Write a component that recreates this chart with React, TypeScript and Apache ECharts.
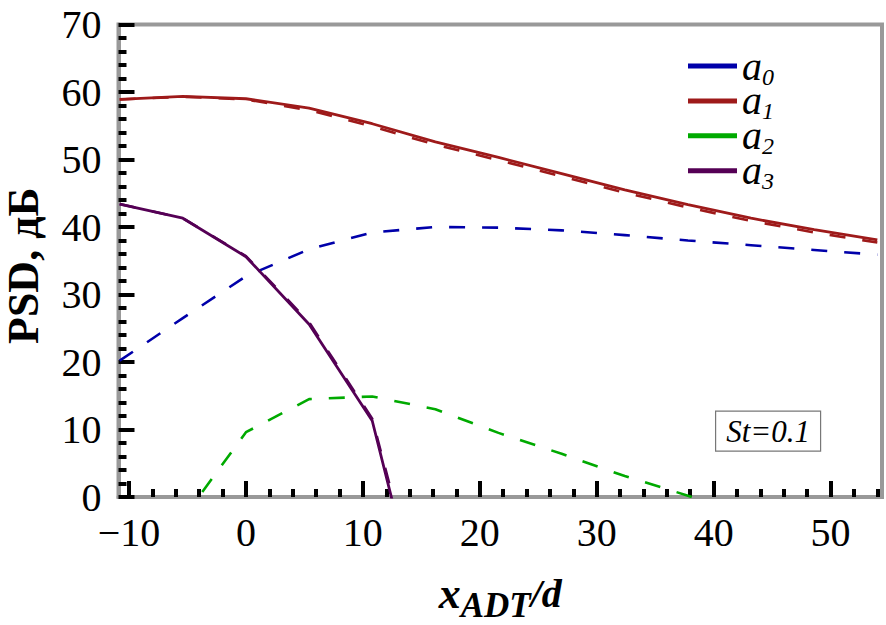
import React, { useEffect, useRef } from "react";
import * as echarts from "echarts";

// x positions of the computed points (x_ADT/d)
const xGrid = [-10.8, -5.4, 0, 5.4, 10.8, 16.2, 21.6, 27, 32.4, 37.8, 43.2, 48.6, 54];
// a0 (blue dashed)
const a0Fit = [20.2, 26.5, 32.7, 36.7, 39.2, 40.0, 39.9, 39.5, 38.8, 38.0, 37.3, 36.6, 35.9];
// a1 (red) solid and dashed
const a1 = [58.9, 59.35, 59.0, 57.6, 55.3, 52.6, 50.3, 47.9, 45.5, 43.3, 41.3, 39.6, 38.1];
const a1Fit = [58.9, 59.3, 58.9, 57.3, 54.9, 52.2, 49.9, 47.5, 45.1, 42.9, 40.9, 39.2, 37.7];
// a2 (green dashed)
const xA2 = [-5.4, 0, 5.4, 10.8, 16.2, 21.6, 27, 32.4, 37.8, 43.2];
const a2Fit = [-3.2, 9.6, 14.5, 14.9, 13.0, 9.5, 6.4, 3.1, 0.2, -3.0];
// a3 (purple) solid and dashed
const xA3 = [-10.8, -5.4, 0, 5.4, 10.8, 16.2];
const a3 = [43.4, 41.3, 35.6, 25.6, 11.3, -26];
const a3Fit = [43.4, 41.3, 35.7, 25.9, 11.6, -24];

const xTicks = [-10, 0, 10, 20, 30, 40, 50];
const xMinorTicks = [-8, -6, -4, -2, 2, 4, 6, 8, 12, 14, 16, 18, 22, 24, 26, 28, 32, 34, 36, 38, 42, 44, 46, 48, 52, 54];
const legendNames = ["a0", "a1", "a2", "a3"];
const colors: Record<string, string> = {
  a0: "#0000aa",
  a1: "#9e1a1a",
  a2: "#00aa00",
  a3: "#550055",
};

const FONT = '"Liberation Serif", "Times New Roman", serif';

function zip(xs: number[], ys: number[]) {
  return xs.map((x, i) => [x, ys[i]]);
}

export default function App() {
  const ref = useRef<HTMLDivElement>(null);
  useEffect(() => {
    const chart = echarts.init(ref.current!, null, { renderer: "svg" });
    const dash = [16, 17];
    const mk = (name: string, xs: number[], ys: number[], dashed: boolean, color: string) => ({
      name,
      type: "line",
      data: zip(xs, ys),
      symbol: "none",
      showSymbol: false,
      clip: true,
      lineStyle: { color, width: dashed ? 2.6 : 2.8, type: dashed ? dash : "solid" },
      itemStyle: { color },
      emphasis: { disabled: true },
    });
    const option: any = {
      animation: false,
      backgroundColor: "#ffffff",
      grid: {
        left: 118.5,
        right: 4,
        top: 24.5,
        bottom: 128,
        show: true,
        borderColor: "#999999",
        borderWidth: 4,
        containLabel: false,
        outerBoundsMode: "none",
      },
      legend: {
        orient: "vertical",
        left: 688,
        top: 46,
        padding: 0,
        itemWidth: 49,
        itemHeight: 5,
        itemGap: -7.6,
        icon: "rect",
        selectedMode: false,
        data: legendNames.map((n) => ({ name: n, icon: "rect", itemStyle: { color: colors[n], borderWidth: 0 } })),
        formatter: (name: string) => `{a|a}{s|${name.slice(1)}}`,
        textStyle: {
          lineHeight: 30,
          rich: {
            a: { fontFamily: FONT, fontStyle: "italic", fontSize: 40, lineHeight: 30, height: 30, color: "#000" },
            s: { fontFamily: FONT, fontStyle: "italic", fontSize: 24, lineHeight: 9, height: 9, verticalAlign: "bottom", color: "#000" },
          },
        },
      },
      xAxis: [
        {
          type: "value",
          min: -10.9,
          max: 54.4,
          position: "bottom",
          axisLine: { show: true, onZero: false, lineStyle: { color: "#999999", width: 4 } },
          axisTick: { show: true, inside: true, length: 16, customValues: xTicks, lineStyle: { color: "#000", width: 4 } },
          axisLabel: {
            customValues: xTicks,
            fontFamily: FONT,
            fontSize: 40,
            color: "#000",
            margin: 15,
            formatter: (v: number) => (v < 0 ? "\u2212" + Math.abs(v) : String(v)),
          },
          splitLine: { show: false },
          name: "{x|x}{s|ADT}{d|/d}",
          nameLocation: "middle",
          nameGap: 76,
          nameTextStyle: {
            lineHeight: 40,
            rich: {
              x: { fontFamily: FONT, fontStyle: "italic", fontWeight: "bold", fontSize: 44, lineHeight: 40, height: 40, color: "#000" },
              s: { fontFamily: FONT, fontStyle: "italic", fontWeight: "bold", fontSize: 35, lineHeight: 16, height: 16, verticalAlign: "bottom", color: "#000" },
              d: { fontFamily: FONT, fontStyle: "italic", fontWeight: "bold", fontSize: 40, lineHeight: 40, height: 40, color: "#000" },
            },
          },
        },
        {
          type: "value",
          min: -10.9,
          max: 54.4,
          position: "bottom",
          axisLine: { show: false, onZero: false },
          axisTick: { show: true, inside: true, length: 8, customValues: xMinorTicks, lineStyle: { color: "#000", width: 4 } },
          axisLabel: { show: false },
          splitLine: { show: false },
        },
      ],
      yAxis: {
        type: "value",
        min: 0,
        max: 70,
        interval: 10,
        axisLine: { show: true, onZero: false, lineStyle: { color: "#999999", width: 4 } },
        axisTick: { show: true, inside: true, length: 16, lineStyle: { color: "#000", width: 4 } },
        minorTick: { show: true, splitNumber: 5, length: 8, lineStyle: { color: "#000", width: 4 } },
        axisLabel: { fontFamily: FONT, fontSize: 40, color: "#000", margin: 17 },
        splitLine: { show: false },
        minorSplitLine: { show: false },
        name: "PSD, дБ",
        nameLocation: "middle",
        nameGap: 73,
        nameTextStyle: { fontFamily: FONT, fontWeight: "bold", fontSize: 44, color: "#000", padding: [0, 10, 0, 0] },
      },
      graphic: [
        {
          type: "group",
          left: 715,
          top: 410.5,
          children: [
            { type: "rect", shape: { x: 0, y: 0, width: 105, height: 40 }, style: { fill: "#fff", stroke: "#777", lineWidth: 1.2 } },
            {
              type: "text",
              x: 52.5,
              y: 20,
              style: { text: "St=0.1", fontFamily: FONT, fontStyle: "italic", fontSize: 31, fill: "#000", align: "center", verticalAlign: "middle" },
            },
          ],
        },
      ],
      series: [
        mk("a0", xGrid, a0Fit, true, colors.a0),
        mk("a2", xA2, a2Fit, true, colors.a2),
        mk("a1 fit", xGrid, a1Fit, true, colors.a1),
        mk("a1", xGrid, a1, false, colors.a1),
        mk("a3 fit", xA3, a3Fit, true, colors.a3),
        mk("a3", xA3, a3, false, colors.a3),
      ],
    };
    chart.setOption(option);
    return () => chart.dispose();
  }, []);
  return (
    <div
      ref={ref}
      style={{ position: "fixed", left: 0, top: 0, width: 886, height: 625, background: "#fff" }}
    />
  );
}
